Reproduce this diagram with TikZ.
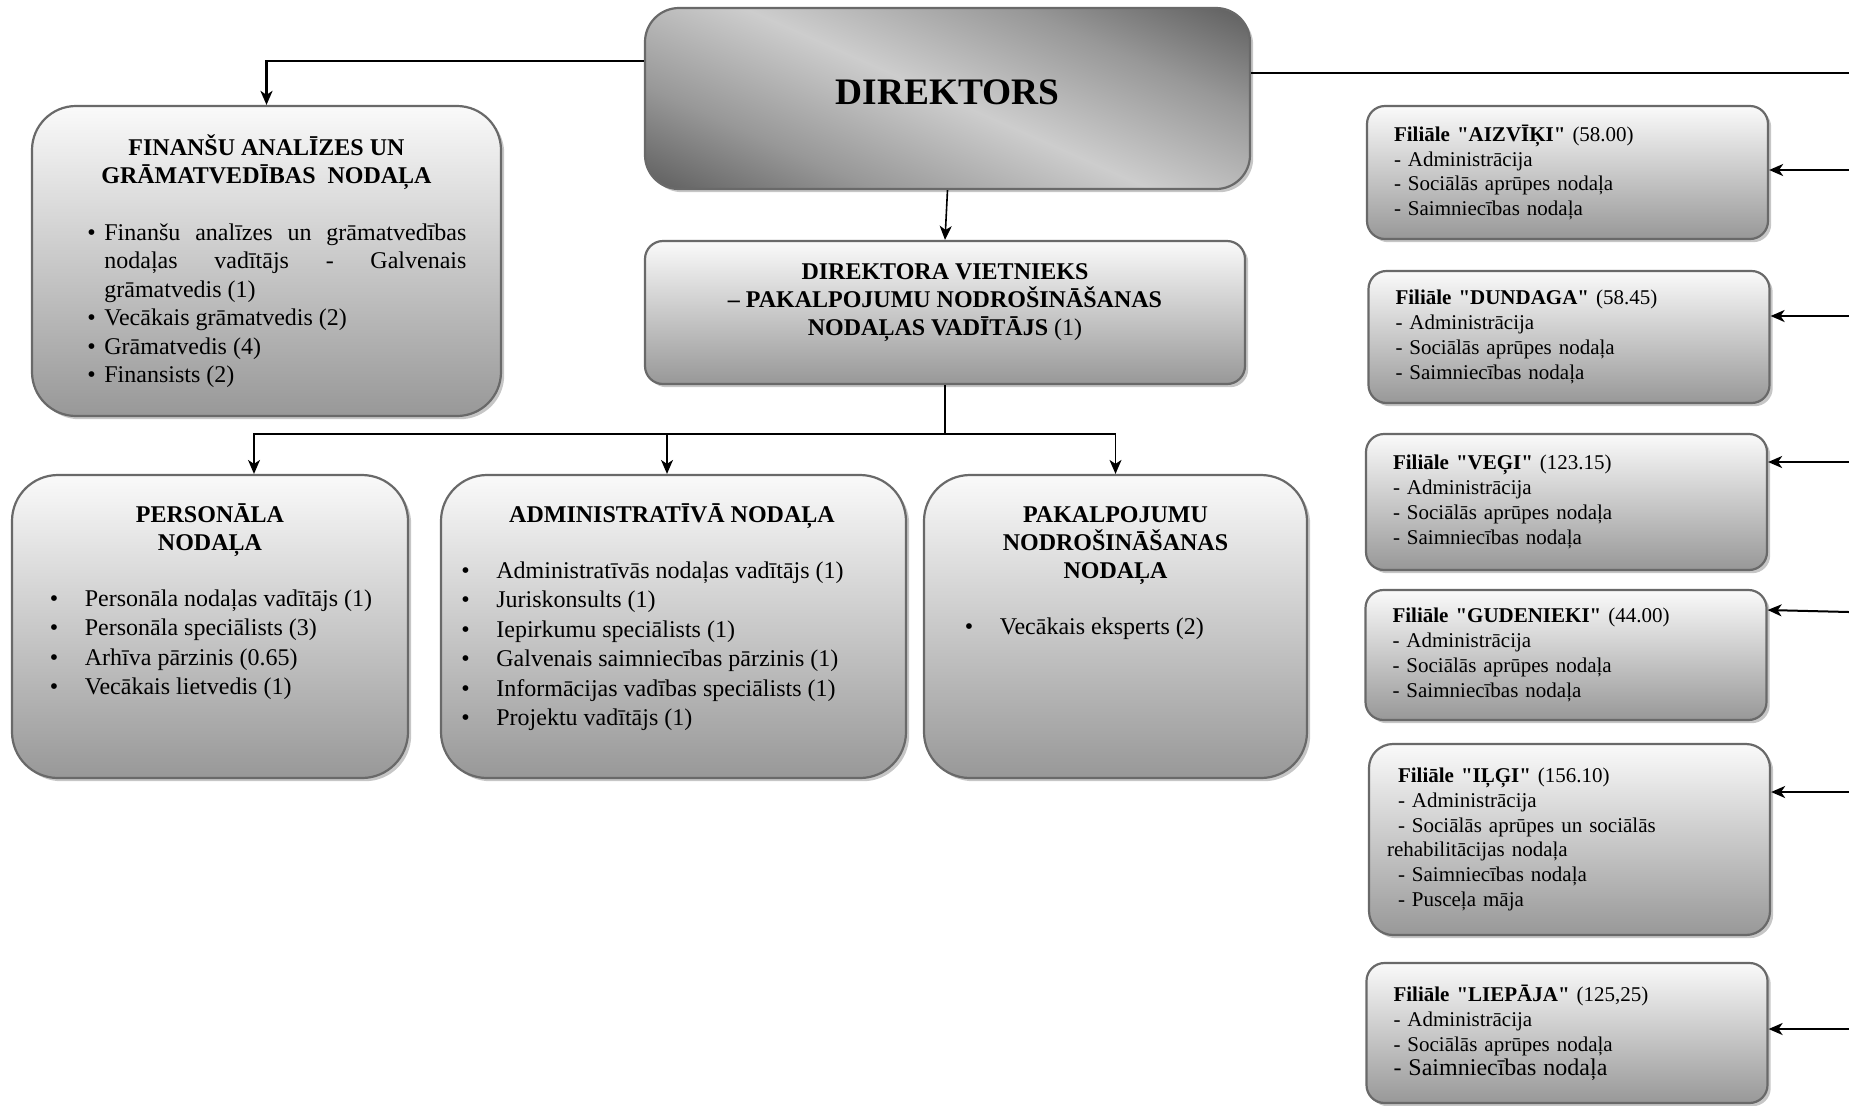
\documentclass[tikz,border=0pt]{standalone}
\usepackage{fontspec}
\setmainfont{Liberation Serif}[Ligatures=TeXOff]
\usepackage{xcolor}
\usetikzlibrary{arrows.meta, shadows}
\definecolor{orgtop}{RGB}{250, 250, 250}
\definecolor{orgbottom}{RGB}{152, 152, 152}
\definecolor{orgedge}{RGB}{105, 105, 105}
\definecolor{orgshadow}{RGB}{198, 198, 198}
\definecolor{dirdark}{RGB}{98, 98, 98}
\definecolor{dirmid}{RGB}{152, 152, 152}
\definecolor{dirlight}{RGB}{205, 205, 205}
\pgfdeclarehorizontalshading{dirshade}{100bp}{color(0bp)=(dirdark); color(18bp)=(dirdark); color(32bp)=(dirmid); color(50bp)=(dirlight); color(68bp)=(dirmid); color(82bp)=(dirdark); color(100bp)=(dirdark)}
\tikzset{
    boxline/.style={draw=orgedge, line width=1.1pt, drop shadow={shadow xshift=1.6pt, shadow yshift=-1.6pt, fill=orgshadow, opacity=1}},
    deptbox/.style={boxline, top color=orgtop, bottom color=orgbottom},
    dirbox/.style={boxline, shading=dirshade, shading angle=66, rounded corners=17pt, minimum width=302.5pt, minimum height=90.5pt, font=\bfseries\fontsize{18.7}{22}\selectfont},
    lowbox/.style={deptbox, rounded corners=23pt, minimum height=151.5pt},
    filbox/.style={deptbox, rounded corners=9pt, minimum width=200.5pt, text width=173.5pt, inner xsep=13.5pt, align=left, font=\fontsize{10.5}{12.4}\selectfont},
    headtxt/.style={inner sep=0pt, anchor=base, font=\bfseries\fontsize{12}{14}\selectfont},
    listtxt/.style={inner sep=0pt, anchor=base west, font=\fontsize{12}{14.75}\selectfont},
    thickconn/.style={line width=1.25pt},
    conn/.style={line width=0.8pt, -{Stealth[length=7pt, width=6pt, inset=2pt]}},
    filconn/.style={line width=1pt, -{Stealth[length=7pt, width=6pt, inset=2pt]}}
}
\newcommand{\lowitem}{\makebox[17.5pt][l]{\textbullet}}
\newcommand{\finitem}{\makebox[8.5pt][l]{\textbullet}}

\begin{document}
\begin{tikzpicture}[x=0.5pt, y=-0.5pt]
    \useasboundingbox (0,0) rectangle (1849,1105);

    % top level
    \node[dirbox] (dir) at (947.5,98.5) {\raisebox{6pt}{DIREKTORS}};
    \node[deptbox, rounded corners=22pt, minimum width=234.5pt, minimum height=155pt] (fin) at (266.5,261) {};
    \node[deptbox, rounded corners=9pt, minimum width=300pt, minimum height=71.5pt] (dv) at (945,312.5) {};

    \node[headtxt] (finhead) at (266.5,155) {\parbox[t]{230pt}{\centering FINANŠU ANALĪZES UN\\GRĀMATVEDĪBAS\ \ NODAĻA}};
    \node[listtxt, font=\fontsize{12}{14.25}\selectfont] (finlist) at (87,240) {\parbox[t]{189.5pt}{\tolerance=10000\hbadness=10000\hyphenpenalty=10000
        \hangindent=8.5pt\hangafter=1\noindent\finitem Finanšu analīzes un grāmatvedības\linebreak nodaļas vadītājs - Galvenais\linebreak grāmatvedis (1)\par
        \noindent\finitem Vecākais grāmatvedis (2)\par
        \noindent\finitem Grāmatvedis (4)\par
        \noindent\finitem Finansists (2)}};
    \node[headtxt] (dvtxt) at (945,279) {\parbox[t]{290pt}{\centering DIREKTORA VIETNIEKS\\– PAKALPOJUMU NODROŠINĀŠANAS\\NODAĻAS VADĪTĀJS \mdseries(1)}};

    % departments
    \node[lowbox, minimum width=198pt] (pers) at (210,626.5) {};
    \node[lowbox, minimum width=232.5pt] (adm) at (673.5,626.5) {};
    \node[lowbox, minimum width=191.5pt] (pak) at (1115.5,626.5) {};

    \node[headtxt] (pershead) at (210,522) {\parbox[t]{180pt}{\centering PERSONĀLA\\NODAĻA}};
    \node[listtxt] (perslist) at (49.5,606) {\parbox[t]{180pt}{\raggedright
        \lowitem Personāla nodaļas vadītājs (1)\\
        \lowitem Personāla speciālists (3)\\
        \lowitem Arhīva pārzinis (0.65)\\
        \lowitem Vecākais lietvedis (1)}};
    \node[headtxt] (admhead) at (672,522) {ADMINISTRATĪVĀ NODAĻA};
    \node[listtxt] (admlist) at (461,578) {\parbox[t]{220pt}{\raggedright
        \lowitem Administratīvās nodaļas vadītājs (1)\\
        \lowitem Juriskonsults (1)\\
        \lowitem Iepirkumu speciālists (1)\\
        \lowitem Galvenais saimniecības pārzinis (1)\\
        \lowitem Informācijas vadības speciālists (1)\\
        \lowitem Projektu vadītājs (1)}};
    \node[headtxt] (pakhead) at (1115.5,522) {\parbox[t]{180pt}{\centering PAKALPOJUMU\\NODROŠINĀŠANAS\\NODAĻA}};
    \node[listtxt] (paklist) at (964.5,634) {\parbox[t]{170pt}{\raggedright
        \lowitem Vecākais eksperts (2)}};

    % branches
    \node[filbox, minimum height=66.5pt] (aiz) at (1567.5,172.5) {\textbf{Filiāle "AIZVĪĶI"} (58.00)\\- Administrācija\\- Sociālās aprūpes nodaļa\\- Saimniecības nodaļa};
    \node[filbox, minimum height=66pt] (dun) at (1569,337) {\textbf{Filiāle "DUNDAGA"} (58.45)\\- Administrācija\\- Sociālās aprūpes nodaļa\\- Saimniecības nodaļa};
    \node[filbox, minimum height=68pt] (veg) at (1566.5,502) {\textbf{Filiāle "VEĢI"} (123.15)\\- Administrācija\\- Sociālās aprūpes nodaļa\\- Saimniecības nodaļa};
    \node[filbox, minimum height=65pt] (gud) at (1566,655) {\textbf{Filiāle "GUDENIEKI"} (44.00)\\- Administrācija\\- Sociālās aprūpes nodaļa\\- Saimniecības nodaļa};
    \node[filbox, rounded corners=12pt, minimum height=95.5pt, inner xsep=9pt, text width=182.5pt] (ilg) at (1569.5,839.5) {\hspace*{5.5pt}\textbf{Filiāle "IĻĢI"} (156.10)\\\hspace*{5.5pt}- Administrācija\\\hspace*{5.5pt}- Sociālās aprūpes un sociālās\\rehabilitācijas nodaļa\\\hspace*{5.5pt}- Saimniecības nodaļa\\\hspace*{5.5pt}- Pusceļa māja};
    \node[filbox, minimum height=70pt] (lie) at (1567,1033) {\textbf{Filiāle "LIEPĀJA"} (125,25)\\- Administrācija\\- Sociālās aprūpes nodaļa\\{\fontsize{12}{14}\selectfont - Saimniecības nodaļa}};

    % connectors
    \coordinate (rtop) at (1849,73);
    \coordinate (bus) at ([yshift=-24.5pt]dv.south);
    \draw[thickconn, -{Stealth[length=7pt, width=6pt, inset=2pt]}] ([yshift=18.75pt]dir.west) -| (fin.north);
    \draw[thickconn] ([yshift=12.75pt]dir.east) -- (rtop);
    \draw[conn] (dir.south) -- (dv.north);
    \draw[line width=0.8pt] (dv.south) -- (bus);
    \draw[conn] (bus) -| ([xshift=22pt]pers.north);
    \draw[conn] (bus) -| ([xshift=-3.25pt]adm.north);
    \draw[conn] (bus) -| (pak.north);

    \coordinate (raiz) at (1849,170);
    \coordinate (rdun) at (1849,316);
    \coordinate (rveg) at (1849,462);
    \coordinate (rgud) at (1849,612);
    \coordinate (rilg) at (1849,792);
    \coordinate (rlie) at (1849,1029);
    \draw[filconn] (raiz) -- (aiz.east |- raiz);
    \draw[filconn] (rdun) -- (dun.east |- rdun);
    \draw[filconn] (rveg) -- (veg.east |- rveg);
    \draw[filconn] (rgud) -- ([yshift=1pt]gud.east |- rgud);
    \draw[filconn] (rilg) -- (ilg.east |- rilg);
    \draw[filconn] (rlie) -- (lie.east |- rlie);
\end{tikzpicture}
\end{document}
